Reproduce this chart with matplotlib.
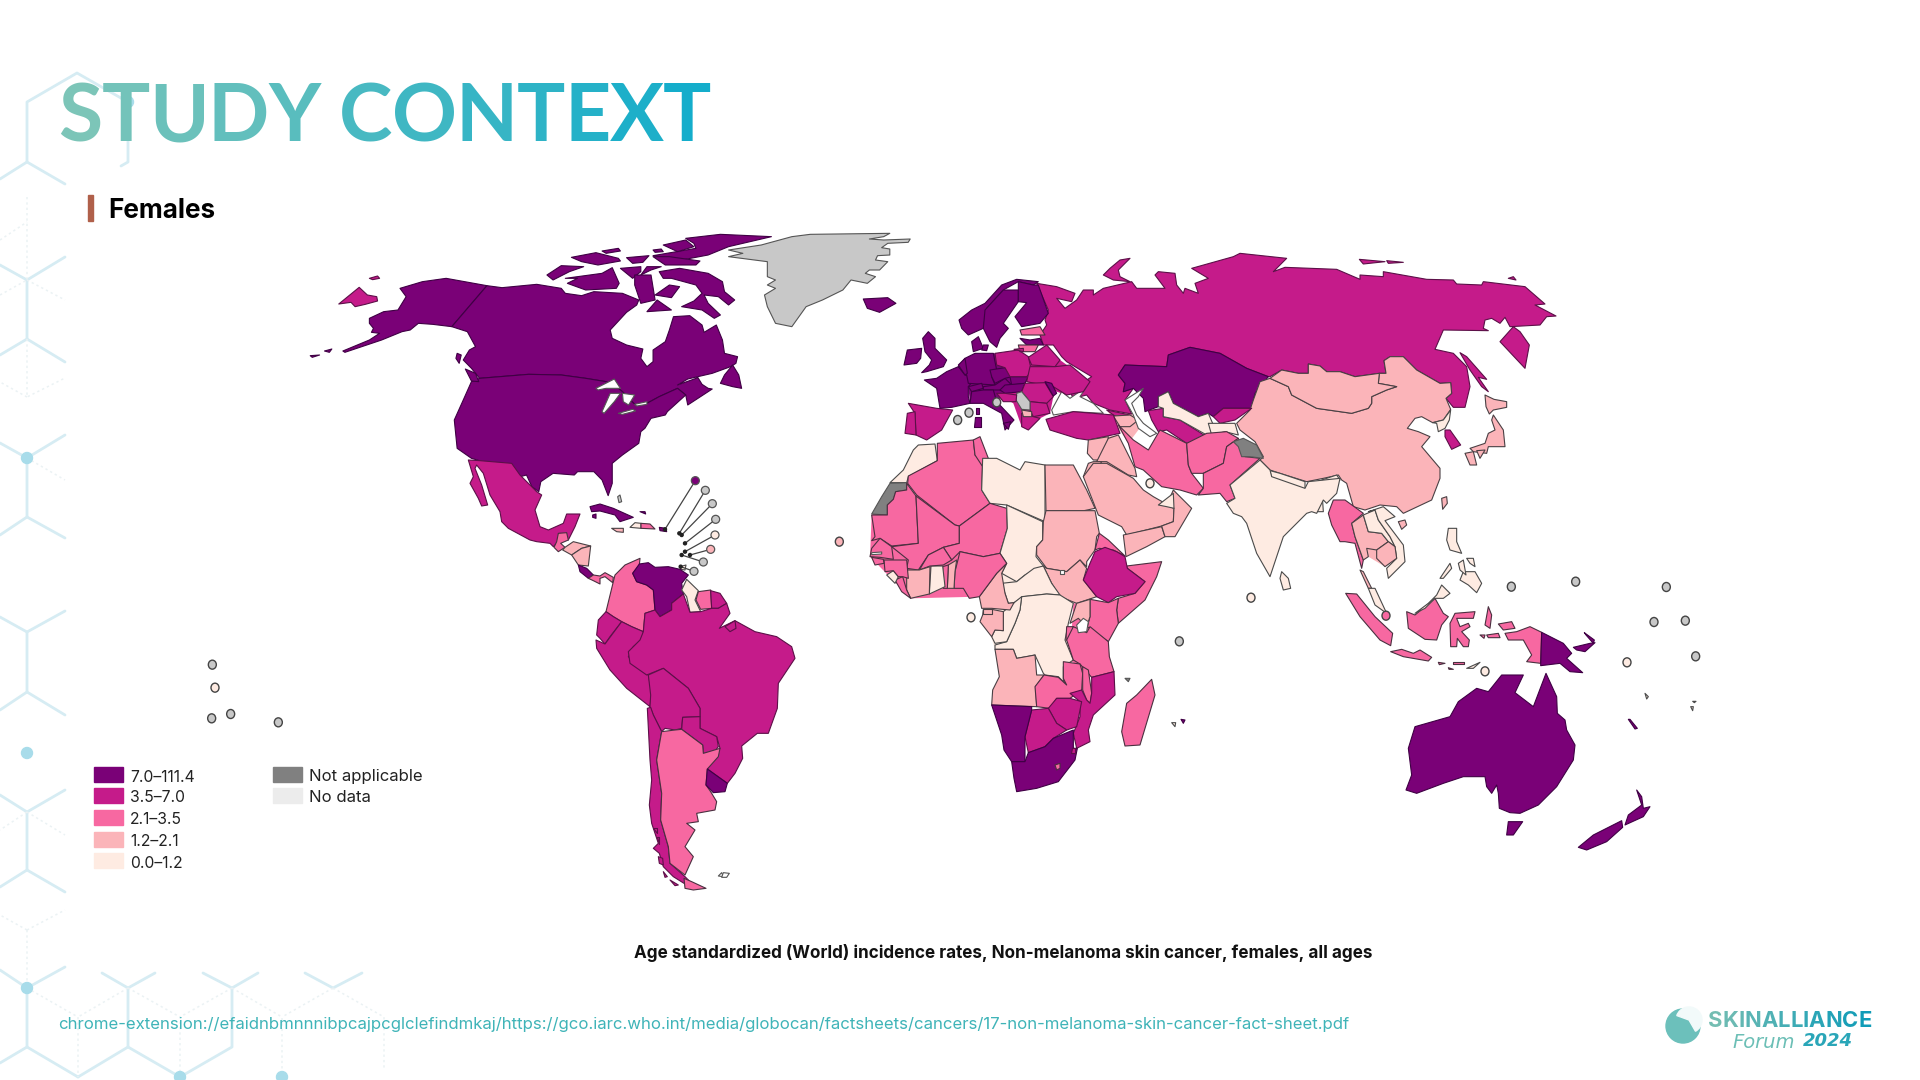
import matplotlib
matplotlib.use('Agg')
import matplotlib.pyplot as plt
import matplotlib.colors as mcolors
from matplotlib.patches import Polygon, Ellipse, Rectangle, Wedge

# Rate classes and their legend
DARK, MAG, PINK, LIGHT, LOW, NA, GREY, SEA = 'dark', 'mag', 'pink', 'light', 'low', 'na', 'grey', 'sea'
CLASS_COLORS = {DARK: '#7a0177', MAG: '#c51b8a', PINK: '#f768a1', LIGHT: '#fbb4b9', LOW: '#feebe2',
                NA: '#808080', GREY: '#c8c8c8', SEA: '#ffffff'}
CLASS_EDGES = {DARK: '#3f0044', MAG: '#5c1048', PINK: '#4a3040', LIGHT: '#4a4044', LOW: '#4a4a4a',
               NA: '#555555', GREY: '#555555', SEA: '#555555'}
LEGEND_LEFT = ['7.0\u2013111.4', '3.5\u20137.0', '2.1\u20133.5', '1.2\u20132.1', '0.0\u20131.2']
LEGEND_LEFT_KEYS = [DARK, MAG, PINK, LIGHT, LOW]
LEGEND_RIGHT = ['Not applicable', 'No data']
LEGEND_RIGHT_COLORS = ['#808080', '#ececec']

# Outlines, each region in the units of its own crop: x0, y0, x scale, y scale
FRAMES = {
    'na': (300, 225, 640 / 1568, 1 / 3),
    'ca': (440, 440, 1 / 3, 1 / 3),
    'ss': (620, 620, 1 / 3, 1 / 3),
    'af': (860, 440, 1 / 3, 1 / 3),
    'me': (880, 260, 1 / 3, 1 / 3),
    'eu': (890, 270, 1 / 3, 1 / 3),
    'as': (1240, 230, 1 / 3, 1 / 3),
    'oc': (1300, 500, 1 / 3, 1 / 3),
    'lg': (0, 640, 1 / 3, 1 / 3),
}

# Land under the countries, so that small tracing gaps do not show white: frame, class, outline
UNDERLAYS = [
    ('eu', DARK, [(205,290),(255,250),(320,250),(345,293),(415,320),(395,365),(345,370),(320,395),(240,400),(235,350)]),
    ('eu', MAG, [(315,250),(415,260),(510,270),(600,335),(530,375),(410,335),(360,320)]),
    ('eu', MAG, [(320,370),(395,365),(490,380),(480,430),(450,445),(415,480),(395,470),(370,400)]),
    ('me', LIGHT, [(625,540),(715,525),(770,650),(650,610)]),
    ('me', LIGHT, [(680,450),(755,462),(790,490),(745,550),(700,480)]),
    ('af', PINK, [(35,225),(170,165),(298,258),(300,335),(358,470),(152,475),(30,350)]),
    ('af', LOW, [(440,370),(600,465),(640,660),(405,628),(358,470)]),
    ('af', PINK, [(640,490),(745,488),(745,605),(748,650),(695,712),(630,660)]),
    ('oc', LIGHT, [(155,70),(190,45),(285,140),(290,175),(255,200),(205,170),(190,180)]),
]

NORTH_AMERICA = [
    (DARK, [(358,160),(458,182),(372,305),(325,298),(290,295),(270,315),(250,320),(200,345),(110,382),(105,378),(170,345),(195,325),(175,322),(180,310),(170,295),(170,280),(205,260),(240,255),(260,215),(245,190),(300,170)]),
    (DARK, [(458,182),(495,188),(580,178),(640,190),(650,205),(690,212),(720,200),(790,205),(830,225),(825,240),(800,262),(760,315),(765,340),(800,360),(840,372),(835,400),(850,425),(865,410),(865,375),(895,350),(905,315),(915,275),(955,272),(985,300),(990,322),(1020,300),(1035,345),(1040,385),(1072,395),(1068,415),(1055,425),(1010,445),(950,462),(925,480),(975,458),(985,478),(1000,490),(1010,492),(950,540),(945,510),(925,490),(880,515),(850,535),(822,540),(805,520),(790,500),(780,490),(750,470),(700,460),(640,450),(560,448),(440,460),(420,430),(400,405),(415,375),(430,365),(410,320),(372,305)]),
    (DARK, [(440,460),(560,448),(640,450),(700,460),(750,470),(780,490),(790,500),(805,520),(822,540),(850,535),(880,515),(925,490),(945,510),(900,560),(895,570),(860,580),(845,610),(835,620),(830,655),(790,690),(765,715),(765,775),(755,812),(740,765),(720,740),(680,740),(672,750),(620,745),(590,770),(585,800),(568,785),(555,750),(540,755),(515,718),(470,718),(420,700),(385,670),(378,585),(400,525),(420,470)]),
    (DARK, [(1040,450),(1060,420),(1075,450),(1082,490),(1060,485),(1030,475)]),
    (DARK, [(405,432),(430,445),(438,470),(420,468)]),
    (DARK, [(385,385),(395,390),(390,415),(382,400)]),
    (DARK, [(25,392),(48,390),(30,397)]),
    (DARK, [(60,378),(78,372),(72,382)]),
    (MAG, [(95,237),(145,187),(165,210),(188,215),(190,228),(160,238),(135,245),(125,232)]),
    (MAG, [(170,160),(190,153),(195,160),(178,164)]),
    (DARK, [(880,140),(930,130),(1000,145),(1035,170),(1040,200),(1065,225),(1050,240),(1025,215),(990,210),(1000,235),(1030,270),(1015,280),(985,255),(935,245),(965,228),(985,205),(970,180),(910,160),(890,160)]),
    (DARK, [(650,160),(740,145),(765,128),(782,175),(775,190),(700,195),(655,175),(680,160)]),
    (DARK, [(605,150),(640,122),(695,125),(660,140),(620,165)]),
    (DARK, [(665,97),(725,83),(780,100),(785,108),(730,120),(690,110)]),
    (DARK, [(740,78),(780,70),(785,78),(750,85)]),
    (DARK, [(800,98),(855,92),(840,112),(815,115)]),
    (DARK, [(945,40),(1030,28),(1155,35),(1050,65),(1000,90),(935,105),(865,92),(970,70),(965,55)]),
    (DARK, [(890,60),(945,45),(965,65),(925,80)]),
    (DARK, [(865,95),(905,95),(980,108),(970,120),(895,120)]),
    (DARK, [(865,75),(885,72),(890,80),(870,82)]),
    (DARK, [(785,130),(835,125),(835,140),(815,160)]),
    (DARK, [(835,150),(850,125),(885,125),(860,135)]),
    (DARK, [(820,150),(860,150),(870,225),(835,235),(820,180)]),
    (DARK, [(870,210),(905,180),(930,185),(910,218)]),
    (DARK, [(850,260),(875,225),(910,255)]),
    (GREY, [(1205,35),(1250,28),(1445,25),(1430,35),(1395,42),(1430,45),(1495,42),(1490,52),(1440,55),(1425,68),(1445,72),(1445,90),(1415,92),(1410,105),(1440,110),(1420,135),(1395,135),(1385,145),(1410,155),(1390,175),(1350,165),(1330,195),(1280,225),(1240,245),(1205,305),(1165,295),(1145,245),(1138,210),(1165,190),(1145,180),(1165,165),(1145,155),(1145,110),(1050,95),(1085,85),(1050,75),(1130,60)]),
    (DARK, [(1380,222),(1440,218),(1460,235),(1420,262),(1390,250)]),
    (SEA, [(725,490),(770,462),(785,490),(750,490),(730,495)]),
    (SEA, [(740,560),(760,505),(785,505),(770,530),(745,565)]),
    (SEA, [(790,505),(820,510),(805,540),(792,530)]),
    (SEA, [(780,565),(815,553),(822,558),(790,568)]),
    (SEA, [(820,538),(850,530),(850,538),(825,543)]),
]

CENTRAL_AMERICA = [
    (MAG, [(85,60),(120,62),(215,70),(240,105),(290,155),(305,165),(285,210),(300,260),(325,270),(370,250),(380,222),(420,222),(405,260),(385,300),(360,280),(355,305),(340,320),(330,310),(290,305),(270,300),(205,265),(185,245),(180,215),(150,165),(130,100),(110,75),(105,85),(125,135),(143,195),(125,198),(115,175),(90,130),(100,110)]),
    (PINK, [(355,280),(380,278),(385,300),(362,310),(375,322),(355,335),(342,322),(350,305)]),
    (LIGHT, [(375,322),(400,305),(452,318),(425,325),(395,345),(368,330)]),
    (LIGHT, [(425,325),(452,318),(445,378),(415,375),(395,345)]),
    (DARK, [(415,375),(440,385),(460,405),(445,415),(420,395)]),
    (PINK, [(445,415),(460,405),(480,408),(495,398),(520,412),(518,428),(495,410),(480,415),(480,432),(460,422)]),
    (DARK, [(450,200),(480,192),(520,205),(580,232),(540,245),(525,225),(480,213),(455,215)]),
    (LIGHT, [(515,265),(550,265),(550,277),(530,275)]),
    (LOW, [(570,262),(585,248),(603,250),(603,265)]),
    (PINK, [(603,250),(630,252),(645,267),(603,265)]),
    (GREY, [(533,170),(540,165),(545,185),(537,188)]),
    (DARK, [(458,225),(468,222),(468,235),(458,232)]),
    (DARK, [(600,215),(615,215),(617,222)]),
    (DARK, [(658,262),(678,265),(680,275),(660,272)]),
    (LOW, [(720,380),(738,375),(735,390),(722,388)]),
    (PINK, [(600,355),(598,375),(578,400),(590,425),(620,435),(640,450),(645,510),(615,520),(610,575),(575,560),(545,545),(520,530),(498,515),(520,425),(525,405),(555,375)]),
    (DARK, [(578,400),(598,372),(625,368),(645,382),(685,380),(720,388),(745,405),(725,430),(730,462),(695,490),(695,510),(660,530),(645,510),(640,450),(620,435),(590,425)]),
    (LOW, [(725,450),(740,418),(775,452),(765,480),(782,515),(750,517),(740,470)]),
    (PINK, [(775,455),(812,450),(815,505),(782,508),(768,480)]),
    (MAG, [(812,452),(840,460),(860,490),(835,505),(815,505)]),
    (MAG, [(498,515),(520,530),(545,545),(510,590),(495,612),(480,595),(470,585),(475,540)]),
    (MAG, [(545,545),(575,560),(610,575),(605,600),(580,620),(565,650),(590,680),(625,705),(635,755),(630,800),(560,745),(510,690),(470,625),(468,600),(495,612)]),
    (MAG, [(610,575),(615,520),(645,510),(660,530),(695,510),(695,490),(730,462),(750,517),(782,515),(815,505),(835,505),(860,490),(870,520),(838,565),(885,542),(945,575),(1010,590),(1055,620),(1065,655),(1015,730),(1012,805),(985,880),(952,880),(905,918),(908,955),(885,1000),(862,1030),(802,987),(840,925),(830,890),(780,865),(780,805),(745,745),(670,685),(620,705),(570,670),(565,635),(600,600)]),
    (MAG, [(855,560),(885,542),(888,565),(870,575)]),
]

SOUTH_CONE = [
    (MAG, [(85,165),(130,145),(205,205),(240,265),(240,290),(188,292),(185,325),(165,330),(135,325),(125,335),(100,285),(90,260),(92,225)]),
    (MAG, [(188,292),(240,290),(240,325),(290,350),(295,380),(280,400),(250,400),(248,375),(185,328)]),
    (MAG, [(82,265),(92,262),(100,285),(125,335),(110,420),(125,520),(122,600),(145,680),(150,730),(195,770),(215,790),(192,790),(160,770),(130,740),(118,700),(100,685),(115,670),(95,610),(88,555),(95,480),(90,420)]),
    (PINK, [(125,335),(165,330),(185,328),(248,375),(250,400),(300,385),(295,410),(262,447),(258,495),(272,515),(290,545),(285,570),(230,580),(235,605),(200,610),(225,630),(195,680),(220,710),(195,765),(150,730),(145,680),(122,600),(125,520),(110,420)]),
    (PINK, [(192,775),(215,785),(258,805),(220,810),(195,805)]),
    (DARK, [(262,447),(322,490),(315,515),(280,518),(258,495)]),
    (SEA, [(295,768),(305,758),(310,770)]),
    (SEA, [(310,758),(328,760),(320,772),(305,772)]),
    (MAG, [(100,625),(110,625),(110,640)]),
    (MAG, [(110,650),(118,650),(118,672)]),
    (MAG, [(115,710),(128,715),(130,735),(118,730)]),
    (MAG, [(130,755),(142,770),(135,772)]),
    (MAG, [(150,780),(175,795),(165,797)]),
]

AFRICA = [
    (LOW, [(130,90),(160,30),(175,15),(225,12),(232,62),(145,110),(140,128),(90,128)]),
    (NA, [(35,222),(65,170),(90,130),(140,128),(140,150),(107,155),(100,178),(82,195),(82,225)]),
    (PINK, [(232,10),(340,0),(345,45),(368,60),(365,150),(390,190),(298,258),(285,255),(170,165),(143,130),(145,108),(232,62)]),
    (PINK, [(340,0),(360,-10),(385,55),(368,80),(345,45)]),
    (LOW, [(368,55),(410,55),(480,90),(495,65),(555,75),(555,245),(440,195),(390,190),(365,150)]),
    (LIGHT, [(555,75),(640,75),(680,150),(705,205),(672,212),(558,212)]),
    (PINK, [(35,225),(82,225),(82,195),(100,178),(107,155),(140,150),(140,130),(168,168),(175,310),(95,318),(60,295),(35,302),(45,290)]),
    (PINK, [(168,168),(285,255),(298,258),(298,310),(250,322),(205,345),(175,390),(140,385),(145,360),(95,320),(175,310)]),
    (PINK, [(298,258),(390,190),(440,205),(442,265),(420,340),(370,350),(300,335),(275,360),(250,322),(298,310)]),
    (LOW, [(440,195),(548,245),(548,300),(530,320),(528,350),(550,378),(495,405),(470,425),(425,400),(440,370),(420,340),(442,265)]),
    (LIGHT, [(558,212),(705,212),(718,280),(710,290),(705,330),(680,365),(680,380),(660,360),(620,395),(560,385),(530,345),(530,320),(548,300),(550,245)]),
    (LIGHT, [(550,378),(560,385),(620,395),(660,360),(680,385),(670,420),(710,470),(650,490),(600,470),(575,430)]),
    (LOW, [(425,430),(470,425),(495,405),(522,385),(550,378),(575,430),(600,465),(560,462),(490,470),(462,488),(445,490),(435,460)]),
    (PINK, [(718,280),(745,300),(795,348),(760,330),(718,325),(705,330)]),
    (PINK, [(800,378),(905,365),(890,410),(855,480),(775,550),(770,510),(775,475),(825,460),(855,425),(802,385)]),
    (MAG, [(705,335),(735,322),(770,335),(795,350),(802,385),(855,425),(825,460),(770,470),(745,488),(710,470),(670,420),(690,370)]),
    (PINK, [(690,478),(745,488),(775,475),(770,510),(775,550),(745,605),(682,560),(690,530)]),
    (LIGHT, [(650,490),(690,478),(690,530),(680,560),(655,535),(630,550),(640,520)]),
    (LOW, [(485,470),(560,462),(600,465),(640,490),(625,550),(615,600),(640,660),(610,680),(610,720),(620,735),(595,710),(555,705),(550,700),(525,645),(500,650),(470,655),(460,628),(405,628),(405,615),(440,605),(465,550),(480,510)]),
    (LOW, [(485,470),(480,510),(465,550),(440,605),(405,610),(395,590),(405,570),(430,572),(430,515),(460,490)]),
    (LIGHT, [(370,508),(395,508),(430,515),(430,572),(405,570),(395,590),(360,545),(368,525)]),
    (LIGHT, [(370,508),(395,508),(395,522),(368,522)]),
    (LIGHT, [(440,370),(425,400),(435,460),(445,490),(462,488),(450,510),(395,505),(365,505),(358,470),(410,400)]),
    (PINK, [(300,335),(370,350),(420,340),(440,370),(410,400),(358,470),(328,475),(310,445),(282,445),(285,395)]),
    (LIGHT, [(265,375),(290,360),(285,395),(282,445),(262,445)]),
    (PINK, [(248,380),(265,375),(262,445),(250,445)]),
    (LOW, [(213,378),(248,378),(255,440),(208,462)]),
    (PINK, [(205,345),(250,322),(275,360),(250,375),(210,378),(178,390)]),
    (LIGHT, [(140,390),(178,390),(210,380),(208,462),(152,475),(140,450)]),
    (PINK, [(105,420),(128,410),(140,450),(152,475),(125,455)]),
    (LOW, [(80,405),(100,392),(115,410),(105,430)]),
    (PINK, [(72,360),(95,360),(140,360),(145,415),(128,410),(115,410),(100,392),(75,395)]),
    (PINK, [(35,325),(60,295),(95,320),(100,358),(60,352),(30,350)]),
    (SEA, [(35,338),(65,336),(65,342),(35,344)]),
    (PINK, [(35,352),(70,358),(72,370),(45,375)]),
    (PINK, [(620,560),(640,560),(635,600),(618,600)]),
    (PINK, [(640,560),(680,578),(690,560),(745,605),(748,650),(762,695),(695,712),(660,672),(640,660),(620,600)]),
    (SEA, [(650,555),(670,535),(685,545),(680,575),(655,578)]),
    (LIGHT, [(405,628),(460,628),(470,655),(525,645),(530,705),(552,705),(527,740),(530,800),(395,795),(398,750),(418,710)]),
    (PINK, [(610,665),(660,672),(668,700),(665,750),(630,775),(590,775),(570,805),(530,800),(525,740),(552,705),(595,712),(620,735),(610,715)]),
    (PINK, [(668,680),(685,690),(695,760),(690,790),(680,780),(668,750)]),
    (MAG, [(695,712),(762,695),(765,765),(700,825),(685,870),(690,905),(650,925),(640,880),(660,830),(660,785),(630,760),(665,750),(680,780),(690,790),(695,760)]),
    (MAG, [(565,805),(590,775),(630,775),(665,785),(650,860),(620,870),(590,850)]),
    (MAG, [(515,810),(565,805),(590,850),(620,870),(580,895),(555,920),(505,938),(495,890)]),
    (DARK, [(395,795),(515,800),(515,810),(495,890),(495,965),(455,965),(432,930),(425,885)]),
    (DARK, [(455,965),(495,965),(505,938),(555,920),(580,895),(640,870),(640,925),(652,925),(645,960),(595,1025),(530,1045),(470,1055),(462,1015)]),
    (PINK, [(585,975),(600,970),(600,985),(590,990)]),
    (MAG, [(635,925),(645,925),(645,940),(632,940)]),
    (PINK, [(875,718),(885,765),(840,915),(795,918),(785,875),(800,790),(830,765)]),
    (NA, [(795,715),(810,715),(805,725)]),
    (LOW, [(935,848),(947,848),(945,860)]),
    (DARK, [(963,838),(975,840),(970,850)]),
    (SEA, [(601,389),(613,389),(613,401),(601,401)]),
]

# Russia runs across two crops, so it is given in the frame of the wider one
EURASIA = [
    (MAG, [(470,70),(530,80),(585,100),(575,125),(530,115),(555,145),(590,120),(610,90),(640,90),(640,105),(670,85),(755,65),(770,85),(855,85),(825,45),(835,35),(885,40),(890,75),(910,100),(915,85),(955,100),(945,70),(985,55),(935,25),(1060,-10),(1080,-20),(1220,-5),(1180,35),(1215,22),(1370,28),(1440,58),(1440,45),(1510,50),(1510,35),(1640,58),(1720,60),(1730,72),(1805,75),(1810,65),(1935,80),(1995,132),(1965,135),(2028,168),(2000,170),(1980,195),(1890,200),(1875,172),(1860,190),(1835,175),(1815,180),(1810,205),(1825,212),(1690,210),(1665,268),(1720,280),(1760,320),(1770,380),(1755,442),(1720,442),(1698,415),(1715,400),(1712,368),(1680,370),(1610,330),(1570,290),(1530,290),(1512,302),(1518,340),(1498,340),(1425,350),(1380,335),(1340,335),(1320,318),(1285,312),(1285,340),(1255,340),(1205,330),(1170,350),(1165,350),(1100,325),(1020,280),(930,262),(865,285),(860,320),(735,315),(715,345),(735,370),(730,395),(760,385),(735,420),(755,462),(690,450),(640,430),(620,405),(580,415),(570,395),(635,350),(560,305),(545,290),(520,255),(490,255),(480,225),(500,195),(495,180),(505,150)]),
    (MAG, [(670,45),(690,25),(720,0),(750,-5),(715,30),(720,50),(750,65),(700,60)]),
    (DARK, [(715,345),(735,315),(860,320),(865,285),(930,262),(1020,280),(1100,325),(1165,350),(1125,400),(1115,445),(1030,445),(1000,470),(985,460),(955,470),(880,430),(865,395),(835,410),(835,440),(795,455),(790,415),(760,385),(730,395),(735,370)]),
    (MAG, [(680,450),(750,465),(720,475),(700,465)]),
    (LIGHT, [(700,468),(750,465),(775,480),(750,500),(720,500)]),
    (SEA, [(515,450),(545,395),(570,415),(620,380),(600,410),(640,430),(670,460),(580,455),(520,465)]),
    (SEA, [(735,420),(790,385),(775,410),(755,430),(770,465),(790,490),(830,520),(810,530),(775,505),(760,465)]),
    (MAG, [(815,480),(805,452),(850,445),(850,470),(900,480),(980,530),(950,555),(920,550),(860,510),(835,515)]),
    (LOW, [(835,410),(865,395),(880,430),(955,470),(985,460),(1000,495),(995,525),(980,525),(900,480),(850,470),(850,445),(835,440)]),
    (MAG, [(1000,470),(1030,445),(1115,445),(1065,480),(1020,490)]),
    (LOW, [(985,490),(1020,490),(1065,490),(1075,525),(1035,515),(995,525)]),
    (MAG, [(498,478),(580,455),(700,465),(720,520),(625,540),(590,535),(510,510)]),
    (PINK, [(715,495),(760,540),(805,570),(840,510),(920,550),(925,615),(935,640),(970,685),(950,705),(900,690),(845,680),(790,630),(765,620),(745,550)]),
    (PINK, [(920,550),(980,520),(1040,515),(1075,535),(1040,560),(1030,610),(970,640),(935,640),(925,615)]),
    (PINK, [(970,640),(1030,610),(1040,560),(1075,535),(1095,590),(1140,595),(1050,675),(1065,715),(1040,725),(1020,700),(955,705),(970,685)]),
    (LIGHT, [(625,540),(685,530),(680,600),(640,600),(622,580)]),
    (LIGHT, [(685,535),(715,525),(765,625),(770,650),(745,645),(680,605),(650,605)]),
    (LIGHT, [(625,610),(640,605),(665,605),(650,630),(635,650),(610,650)]),
    (LIGHT, [(640,610),(680,610),(760,655),(790,690),(820,710),(882,745),(880,785),(845,798),(740,825),(725,800),(655,765),(610,650)]),
    (LIGHT, [(730,825),(845,800),(855,830),(800,860),(738,890)]),
    (LIGHT, [(880,690),(935,745),(885,830),(855,830),(845,798),(880,785),(882,745),(860,735)]),
    (LOW, [(835,735),(880,700),(882,745),(860,740)]),
    (LOW, [(1140,600),(1170,630),(1175,650),(1275,685),(1285,665),(1380,655),(1370,700),(1340,730),(1330,720),(1310,760),(1295,755),(1280,760),(1210,830),(1170,950),(1130,880),(1100,790),(1085,770),(1060,760),(1040,730),(1065,715),(1050,675)]),
    (NA, [(1060,545),(1090,535),(1130,555),(1150,595),(1110,590),(1085,590),(1075,560)]),
    (LOW, [(1205,935),(1225,955),(1232,985),(1210,990),(1200,955)]),
    (MAG, [(85,430),(170,445),(218,450),(185,510),(140,540),(108,525),(105,460)]),
    (MAG, [(75,520),(82,460),(105,455),(108,525)]),
]

EUROPE = [
    (DARK, [(207,150),(245,120),(285,100),(335,45),(380,28),(445,35),(430,45),(385,35),(340,60),(290,115),(280,175),(235,195),(215,175)]),
    (DARK, [(285,120),(340,60),(385,60),(385,95),(340,160),(355,175),(330,205),(320,232),(300,215),(280,175)]),
    (DARK, [(385,35),(430,45),(445,45),(475,130),(450,160),(395,170),(375,140),(410,98),(385,95),(385,60)]),
    (DARK, [(245,215),(265,200),(280,235),(250,245)]),
    (DARK, [(280,225),(295,225),(290,242),(275,240)]),
    (DARK, [(98,205),(115,185),(135,205),(135,235),(170,270),(160,290),(110,305),(95,308),(118,285),(125,270),(105,245)]),
    (DARK, [(42,285),(52,240),(95,235),(92,265),(80,280)]),
    (DARK, [(103,330),(140,325),(170,305),(205,290),(225,315),(255,325),(235,350),(235,380),(240,400),(185,412),(150,415),(145,385),(140,355)]),
    (DARK, [(255,250),(310,250),(320,300),(305,320),(315,345),(235,340),(230,315),(205,290),(225,265)]),
    (DARK, [(205,285),(225,265),(232,310),(225,315)]),
    (DARK, [(235,350),(275,340),(280,355),(245,365)]),
    (DARK, [(280,350),(315,345),(345,325),(365,345),(330,360),(280,360)]),
    (DARK, [(300,300),(345,293),(365,320),(345,325),(315,340),(305,320)]),
    (DARK, [(360,320),(415,320),(405,340),(365,345)]),
    (DARK, [(345,345),(405,340),(395,365),(345,370),(330,360)]),
    (DARK, [(245,365),(280,360),(310,360),(320,395),(372,450),(345,480),(335,430),(280,400),(240,400)]),
    (DARK, [(340,460),(362,455),(355,478)]),
    (DARK, [(255,440),(272,440),(272,472),(253,472)]),
    (DARK, [(258,415),(268,415),(268,432),(258,432)]),
    (MAG, [(315,250),(385,240),(415,260),(425,305),(410,320),(360,320),(345,293),(320,285)]),
    (MAG, [(415,262),(470,225),(510,270),(495,290),(425,285)]),
    (MAG, [(420,290),(495,290),(540,285),(600,335),(580,365),(530,375),(490,350),(460,345),(410,335)]),
    (PINK, [(390,180),(450,170),(465,195),(395,195)]),
    (DARK, [(390,205),(420,210),(450,205),(460,225),(410,225)]),
    (PINK, [(385,225),(445,225),(435,245),(390,245)]),
    (MAG, [(372,238),(400,235),(400,245)]),
    (MAG, [(405,340),(465,338),(490,380),(470,400),(420,395),(395,365)]),
    (DARK, [(465,335),(485,340),(500,370),(490,378)]),
    (MAG, [(420,395),(470,400),(480,430),(430,440),(420,420)]),
    (GREY, [(380,370),(395,365),(420,395),(420,420),(395,418),(378,390)]),
    (MAG, [(320,370),(345,370),(380,375),(378,395),(340,395)]),
    (MAG, [(395,430),(430,440),(450,445),(415,480),(395,470)]),
    (LIGHT, [(395,420),(425,425),(425,440),(400,440)]),
]

EAST_ASIA = [
    (LIGHT, [(90,445),(145,470),(155,495),(230,535),(335,550),(385,535),(395,520),(395,500),(440,480),(470,470),(415,460),(418,430),(438,430),(432,392),(450,380),(490,380),(530,420),(600,460),(632,458),(635,490),(618,505),(632,538),(610,570),(578,578),(545,560),(525,565),(502,595),(535,605),(570,620),(545,650),(600,715),(600,745),(575,810),(490,850),(470,830),(420,825),(375,840),(340,830),(320,760),(305,750),(295,735),(250,745),(200,755),(120,730),(90,720),(60,690),(70,680),(45,635),(0,600),(-10,580),(30,540),(40,510),(60,455)]),
    (LIGHT, [(90,445),(125,420),(175,430),(205,430),(205,402),(240,408),(260,425),(300,425),(345,440),(418,430),(415,460),(470,470),(440,480),(395,500),(395,520),(385,535),(335,550),(230,535),(155,495),(145,470)]),
    (LIGHT, [(605,805),(620,800),(622,820),(608,838)]),
    (LIGHT, [(475,875),(495,870),(500,885),(485,898)]),
    (LOW, [(578,578),(610,570),(632,540),(628,570),(615,595),(595,605),(590,580)]),
    (MAG, [(615,600),(630,600),(662,645),(635,658),(615,620)]),
    (LIGHT, [(735,495),(762,508),(800,515),(800,532),(760,540),(748,552),(738,530)]),
    (LIGHT, [(760,555),(790,600),(795,650),(745,650),(740,670),(700,665),(690,655),(735,640),(745,610),(765,600),(755,570)]),
    (LIGHT, [(675,670),(700,665),(710,705),(690,705)]),
    (LIGHT, [(710,662),(735,660),(720,685)]),
    (MAG, [(660,368),(680,380),(740,448),(715,442),(745,485),(725,470),(690,420)]),
    (MAG, [(820,290),(840,305),(868,345),(855,415),(780,335)]),
    (MAG, [(805,145),(820,140),(828,150)]),
    (MAG, [(358,88),(435,95),(370,102)]),
    (MAG, [(440,92),(490,97),(445,100)]),
    (LOW, [(90,722),(120,730),(195,755),(195,780),(150,765),(95,745)]),
    (LOW, [(245,750),(290,735),(300,750),(265,768)]),
    (LOW, [(205,780),(245,770),(250,845),(225,845),(215,800)]),
]

OCEANIA = [
    (PINK, [(85,40),(100,0),(135,0),(190,40),(155,70),(165,110),(190,180),(185,205),(165,130),(135,125),(120,125),(95,75)]),
    (LIGHT, [(155,70),(190,45),(205,95),(245,100),(265,125),(230,150),(200,145),(205,170),(190,180),(165,110)]),
    (LIGHT, [(180,210),(190,215),(215,265),(205,265)]),
    (LOW, [(190,45),(225,30),(235,60),(270,110),(285,140),(265,125),(245,100),(205,95)]),
    (LOW, [(205,35),(250,20),(285,50),(255,62),(310,135),(315,185),(265,235),(260,205),(290,175),(285,140),(270,110),(235,60),(225,30)]),
    (LIGHT, [(230,150),(265,125),(285,140),(290,175),(255,200),(230,175)]),
    (LOW, [(205,265),(225,265),(260,340),(225,315)]),
    (PINK, [(137,280),(170,282),(225,350),(278,400),(272,437),(240,420),(180,350)]),
    (PINK, [(272,455),(305,448),(340,460),(360,450),(395,472),(385,483),(310,470)]),
    (PINK, [(320,335),(345,345),(405,295),(430,340),(445,350),(425,375),(410,420),(375,418),(325,385)]),
    (LOW, [(345,340),(385,310),(410,285),(425,255),(450,280),(430,295),(405,295),(375,325)]),
    (PINK, [(450,370),(465,340),(525,335),(520,355),(470,355),(480,380),(505,370),(510,380),(485,395),(508,420),(505,440),(490,440),(472,415),(470,440),(452,440)]),
    (LOW, [(445,85),(470,85),(470,125),(485,160),(450,150),(440,120)]),
    (LOW, [(480,240),(490,215),(525,215),(545,250),(530,278),(505,255)]),
    (LOW, [(420,235),(450,190),(455,205),(430,235)]),
    (LOW, [(475,190),(490,180),(498,225),(480,210)]),
    (LOW, [(500,175),(520,175),(525,200),(510,190)]),
    (PINK, [(555,375),(565,320),(575,345),(570,385)]),
    (PINK, [(415,487),(435,490),(418,494)]),
    (PINK, [(460,487),(493,487),(493,492),(460,492)]),
    (PINK, [(445,503),(460,508),(447,508)]),
    (LOW, [(500,505),(540,487),(520,505)]),
    (PINK, [(540,405),(555,405),(552,415)]),
    (PINK, [(560,405),(595,400),(600,413),(565,413)]),
    (PINK, [(595,372),(635,365),(645,385),(610,390)]),
    (PINK, [(615,400),(650,395),(690,380),(725,397),(722,490),(680,485),(695,465),(670,420),(625,420)]),
    (DARK, [(725,397),(790,430),(815,460),(800,475),(848,518),(810,515),(780,490),(722,497)]),
    (DARK, [(820,442),(870,430),(885,428),(855,455),(830,450)]),
    (DARK, [(853,398),(883,420),(880,430),(858,405)]),
    (DARK, [(985,658),(990,658),(1012,685),(1005,687)]),
    (LOW, [(1035,580),(1045,590),(1040,597)]),
    (LOW, [(1172,620),(1180,620),(1178,632)]),
    (LOW, [(1178,604),(1188,604),(1183,608)]),
    (DARK, [(605,525),(670,525),(645,578),(700,620),(738,520),(770,590),(772,640),(795,660),(800,690),(825,735),(820,780),(770,860),(715,915),(660,940),(630,938),(598,925),(595,880),(590,855),(575,880),(560,860),(555,830),(490,830),(430,850),(350,880),(318,870),(335,825),(325,745),(345,680),(450,650),(475,605),(530,565),(565,575)]),
    (DARK, [(625,965),(668,965),(640,1005),(620,1005)]),
    (DARK, [(1010,870),(1025,890),(1030,925),(1050,920),(1030,950),(975,975),(985,945),(1025,915)]),
    (DARK, [(965,962),(968,982),(920,1025),(860,1050),(835,1042),(880,1005)]),
]

# Small islands drawn as dots: frame, x, y, class
ISLAND_DOTS = [
    ('lg',637,74,GREY),('lg',645,143,LOW),('lg',635,235,GREY),('lg',692,222,GREY),('lg',835,247,GREY),
    ('ca',1198,305,LIGHT),('af',333,532,LOW),('af',958,604,GREY),('af',1173,473,LOW),
    ('eu',203,450,GREY),('eu',237,428,GREY),('eu',320,397,GREY),('me',810,670,LOW),
    ('oc',634,260,GREY),('oc',827,245,GREY),('oc',1099,261,GREY),('oc',1062,366,GREY),('oc',1156,362,GREY),
    ('oc',1187,469,GREY),('oc',981,487,LOW),('oc',555,514,LOW),('oc',258,347,PINK),
]

# Caribbean call-outs in the 'ca' crop: circle x, y, class, island x, y
CALLOUTS = [
    (766,122,DARK,675,268),(796,151,GREY,718,280),(817,191,GREY,725,285),(827,238,GREY,735,310),
    (825,285,LOW,735,335),(812,328,LIGHT,750,345),(790,366,GREY,725,345),(762,394,GREY,722,380),
]

# Faint hexagon pattern of the slide template
HEX_LINES = [
    [(0,179),(27,162),(65,184)],[(27,162),(27,102),(77,73),(128,102),(128,162),(121,166)],
    [(0,265),(27,280),(65,257)],[(27,280),(27,339),(0,355)],[(27,339),(65,362)],
    [(0,443),(27,458),(65,435)],[(27,458),(27,517),(0,535)],[(27,517),(65,538)],
    [(65,611),(27,632),(0,617)],[(27,632),(27,692),(0,710)],[(27,692),(65,715)],
    [(0,795),(27,812),(65,790)],[(27,812),(27,870),(0,887)],[(27,870),(65,892)],
    [(0,970),(27,988),(65,967)],[(27,988),(27,1047),(0,1063)],[(27,1047),(78,1077)],
    [(102,973),(128,988),(155,973)],[(128,988),(128,1047),(78,1077)],[(128,1047),(180,1077)],
    [(203,973),(232,988),(258,973)],[(232,988),(232,1047),(180,1077)],[(305,973),(333,988),(362,973)],
]
HEX_DOTTED = [
    [(27,197),(27,280)],[(0,240),(27,222)],[(27,339),(27,397),(65,378)],[(27,397),(0,382)],
    [(27,280),(65,300)],[(0,295),(27,280)],[(27,458),(65,480)],[(27,812),(65,835)],[(27,812),(0,830)],
    [(27,930),(27,988)],[(27,930),(65,910)],[(27,930),(0,915)],[(27,988),(78,1017),(78,1077)],
    [(128,988),(78,1017)],[(128,988),(180,1017),(180,1077)],[(232,988),(180,1017)],
    [(232,988),(282,1017),(282,1077)],[(333,988),(282,1017)],[(333,988),(384,1017),(384,1070)],
]
HEX_DOTS = [(128,102),(27,458),(27,753),(27,988),(180,1077),(282,1077)]


def to_px(frame, x, y):
    x0, y0, sx, sy = FRAMES[frame]
    return x0 + x * sx, y0 + y * sy


def draw_shapes(ax, frame, shapes):
    for rate, pts in shapes:
        xy = [to_px(frame, x, y) for x, y in pts]
        ax.add_patch(Polygon(xy, closed=True, facecolor=CLASS_COLORS[rate], edgecolor=CLASS_EDGES[rate],
                             linewidth=0.8, joinstyle='round', zorder=3))


def gradient_text(ax, x, y, s, c0, c1, spacing=1.0, **kw):
    # one real text per letter, coloured along the word
    rend = ax.figure.canvas.get_renderer()

    def width(t):
        tmp = ax.text(0, 0, t, **kw)
        w = tmp.get_window_extent(rend).width
        tmp.remove()
        return w
    a = mcolors.to_rgb(c0)
    b = mcolors.to_rgb(c1)
    n = len(s) - 1
    for i, ch in enumerate(s):
        off = (width(s[:i + 1]) - width(ch)) * spacing
        c = [a[k] + (b[k] - a[k]) * i / n for k in range(3)]
        ax.text(x + off, y, ch, color=c, ha='left', va='baseline', zorder=6, **kw)


fig = plt.figure(figsize=(19.2, 10.8), dpi=100, facecolor='white')
ax = fig.add_axes([0, 0, 1, 1])
ax.set_xlim(0, 1920)
ax.set_ylim(1080, 0)
ax.axis('off')

# template background
for line in HEX_LINES:
    ax.plot(*zip(*line), color='#d6ecf3', lw=2, zorder=1, solid_capstyle='round')
for line in HEX_DOTTED:
    ax.plot(*zip(*line), color='#ebf2f4', lw=1.1, ls=(0, (1.5, 2)), zorder=1)
for x, y in HEX_DOTS:
    ax.add_patch(Ellipse((x, y), 11, 11, color='#a8dcea', zorder=1))

# map
for frame, rate, pts in UNDERLAYS:
    ax.add_patch(Polygon([to_px(frame, x, y) for x, y in pts], closed=True,
                         facecolor=CLASS_COLORS[rate], edgecolor='none', zorder=2))
draw_shapes(ax, 'me', EURASIA[:7])
draw_shapes(ax, 'as', EAST_ASIA)
draw_shapes(ax, 'me', EURASIA[7:])
draw_shapes(ax, 'eu', EUROPE)
draw_shapes(ax, 'na', NORTH_AMERICA)
draw_shapes(ax, 'ca', CENTRAL_AMERICA)
draw_shapes(ax, 'ss', SOUTH_CONE)
draw_shapes(ax, 'af', AFRICA)
draw_shapes(ax, 'oc', OCEANIA)

for frame, x, y, rate in ISLAND_DOTS:
    cx, cy = to_px(frame, x, y)
    ax.add_patch(Ellipse((cx, cy), 8, 9, facecolor=CLASS_COLORS[rate], edgecolor='#444444', lw=1, zorder=4))
for x, y, rate, ix, iy in CALLOUTS:
    cx, cy = to_px('ca', x, y)
    px, py = to_px('ca', ix, iy)
    ax.plot([cx, px], [cy, py], color='#444444', lw=0.9, zorder=4)
    ax.add_patch(Ellipse((cx, cy), 8, 8, facecolor=CLASS_COLORS[rate], edgecolor='#555555', lw=0.9, zorder=5))
    ax.add_patch(Ellipse((px, py), 3, 3, color='#222222', zorder=5))

# title and header
gradient_text(ax, 58, 141, 'STUDY CONTEXT', '#7cc5b8', '#14adcb', spacing=0.985,
              fontsize=58, fontfamily='Lato', fontweight='bold')
ax.add_patch(Rectangle((88, 195), 5, 26, color='#b0604a', zorder=6))
ax.text(108, 218, 'Females', fontsize=18.8, fontweight='bold', fontfamily='Inter', color='black', va='baseline')

# legend
legend_y = [767, 788, 810, 832, 853]
for y, key, label in zip(legend_y, LEGEND_LEFT_KEYS, LEGEND_LEFT):
    ax.add_patch(Rectangle((94, y), 29, 15, color=CLASS_COLORS[key], zorder=6))
    ax.text(130, y + 10, label, fontsize=11.3, fontfamily='Inter', color='#222222', va='center')
for y, col, label in zip(legend_y, LEGEND_RIGHT_COLORS, LEGEND_RIGHT):
    ax.add_patch(Rectangle((273, y), 29, 15, color=col, zorder=6))
    ax.text(309, y + 10, label, fontsize=12, fontfamily='Inter', color='#222222', va='center')

# captions
ax.text(1003, 953, 'Age standardized (World) incidence rates, Non-melanoma skin cancer, females, all ages',
        fontsize=12.3, fontweight='bold', fontfamily='Inter', color='#111111', ha='center', va='center')
ax.text(58, 1024, 'chrome-extension://efaidnbmnnnibpcajpcglclefindmkaj/https://gco.iarc.who.int/media/globocan/factsheets/cancers/17-non-melanoma-skin-cancer-fact-sheet.pdf',
        fontsize=12.05, fontfamily='Inter', color='#3fb4b8', va='center', zorder=6)

# logo
ax.add_patch(Ellipse((1683, 1026), 34, 34, color='#6cc0bb', zorder=6))
ax.add_patch(Wedge((1689, 1020), 13, 200, 60, color='#f2fafa', zorder=7))
gradient_text(ax, 1708, 1027, 'SKINALLIANCE', '#74bdb2', '#109cb8', fontsize=15.8, fontfamily='Inter', fontweight='bold')
ax.text(1732, 1048, 'Forum', fontsize=14, fontstyle='italic', fontfamily='DejaVu Sans', color='#6cbfb6', zorder=6)
ax.text(1803, 1046, '2024', fontsize=13, fontstyle='italic', fontweight='bold', fontfamily='DejaVu Sans', color='#2aa6b8', zorder=6)

fig.savefig('out.png', dpi=100)
